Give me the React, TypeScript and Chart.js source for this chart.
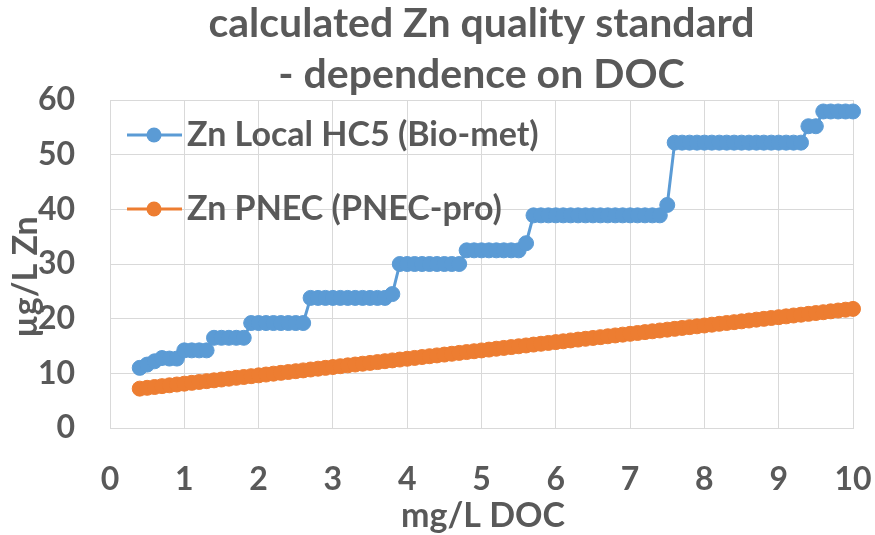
import React, { useEffect, useRef } from 'react';
import { Chart, registerables } from 'chart.js';

Chart.register(...registerables);

// ---- data ----
const docValues = [
  0.4, 0.5, 0.6, 0.7, 0.8, 0.9,
  1.0, 1.1, 1.2, 1.3, 1.4, 1.5, 1.6, 1.7, 1.8, 1.9,
  2.0, 2.1, 2.2, 2.3, 2.4, 2.5, 2.6, 2.7, 2.8, 2.9,
  3.0, 3.1, 3.2, 3.3, 3.4, 3.5, 3.6, 3.7, 3.8, 3.9,
  4.0, 4.1, 4.2, 4.3, 4.4, 4.5, 4.6, 4.7, 4.8, 4.9,
  5.0, 5.1, 5.2, 5.3, 5.4, 5.5, 5.6, 5.7, 5.8, 5.9,
  6.0, 6.1, 6.2, 6.3, 6.4, 6.5, 6.6, 6.7, 6.8, 6.9,
  7.0, 7.1, 7.2, 7.3, 7.4, 7.5, 7.6, 7.7, 7.8, 7.9,
  8.0, 8.1, 8.2, 8.3, 8.4, 8.5, 8.6, 8.7, 8.8, 8.9,
  9.0, 9.1, 9.2, 9.3, 9.4, 9.5, 9.6, 9.7, 9.8, 9.9,
  10.0,
];

const hc5Values = [
  11.0, 11.6, 12.2, 12.8, 12.7, 12.7,
  14.2, 14.2, 14.2, 14.2, 16.5, 16.5, 16.5, 16.5, 16.5, 19.2,
  19.2, 19.2, 19.2, 19.2, 19.2, 19.2, 19.2, 23.8, 23.8, 23.8,
  23.8, 23.8, 23.8, 23.8, 23.8, 23.8, 23.8, 23.8, 24.5, 30.0,
  30.0, 30.0, 30.0, 30.0, 30.0, 30.0, 30.0, 30.0, 32.5, 32.5,
  32.5, 32.5, 32.5, 32.5, 32.5, 32.5, 33.8, 38.9, 38.9, 38.9,
  38.9, 38.9, 38.9, 38.9, 38.9, 38.9, 38.9, 38.9, 38.9, 38.9,
  38.9, 38.9, 38.9, 38.9, 38.9, 40.8, 52.2, 52.2, 52.2, 52.2,
  52.2, 52.2, 52.2, 52.2, 52.2, 52.2, 52.2, 52.2, 52.2, 52.2,
  52.2, 52.2, 52.2, 52.2, 55.2, 55.2, 57.9, 57.9, 57.9, 57.9,
  57.9,
];

const pnecValues = [
  7.20, 7.35, 7.50, 7.66, 7.81, 7.96,
  8.11, 8.26, 8.42, 8.57, 8.72, 8.87, 9.02, 9.18, 9.33, 9.48,
  9.63, 9.78, 9.94, 10.09, 10.24, 10.39, 10.54, 10.70, 10.85, 11.00,
  11.15, 11.30, 11.46, 11.61, 11.76, 11.91, 12.06, 12.22, 12.37, 12.52,
  12.67, 12.82, 12.98, 13.13, 13.28, 13.43, 13.58, 13.74, 13.89, 14.04,
  14.19, 14.34, 14.50, 14.65, 14.80, 14.95, 15.10, 15.26, 15.41, 15.56,
  15.71, 15.86, 16.02, 16.17, 16.32, 16.47, 16.62, 16.78, 16.93, 17.08,
  17.23, 17.38, 17.54, 17.69, 17.84, 17.99, 18.14, 18.30, 18.45, 18.60,
  18.75, 18.90, 19.06, 19.21, 19.36, 19.51, 19.66, 19.82, 19.97, 20.12,
  20.27, 20.42, 20.58, 20.73, 20.88, 21.03, 21.18, 21.34, 21.49, 21.64,
  21.79,
];

const seriesNames = ['Zn Local HC5 (Bio-met)', 'Zn PNEC (PNEC-pro)'];
const titleLines = ['calculated Zn quality standard', '- dependence on DOC'];
const xAxisTitle = 'mg/L DOC';
const yAxisTitle = 'µg/L Zn';
const xTickRange = [0, 10, 1];
const yTickRange = [0, 60, 10];

// ---- styles ----
const FONT = 'Lato, "DejaVu Sans", sans-serif';
const TEXT = '#595959';
const GRID = '#d9d9d9';
const BLUE = '#5b9bd5';
const ORANGE = '#ed7d31';
const colors = [BLUE, ORANGE];

const overlayPlugin = {
  id: 'overlayText',
  afterDraw(chart: any) {
    const ctx = chart.ctx as CanvasRenderingContext2D;
    const a = chart.chartArea;
    ctx.save();
    ctx.fillStyle = TEXT;

    // title
    ctx.font = `bold 41px ${FONT}`;
    ctx.textAlign = 'center';
    ctx.textBaseline = 'alphabetic';
    const cx = (a.left + a.right) / 2;
    ctx.fillText(titleLines[0], cx, 37);
    ctx.fillText(titleLines[1], cx, 88);

    // legend (inside plot area)
    const legendY = [a.top + 35, a.top + 109];
    seriesNames.forEach((name, i) => {
      const y = legendY[i];
      ctx.strokeStyle = colors[i];
      ctx.lineWidth = 3;
      ctx.beginPath();
      ctx.moveTo(a.left + 17, y);
      ctx.lineTo(a.left + 72, y);
      ctx.stroke();
      ctx.fillStyle = colors[i];
      ctx.beginPath();
      ctx.arc(a.left + 44, y, 7.5, 0, Math.PI * 2);
      ctx.fill();
      ctx.fillStyle = TEXT;
      ctx.font = `bold 34px ${FONT}`;
      ctx.textAlign = 'left';
      ctx.textBaseline = 'alphabetic';
      ctx.fillText(name, a.left + 77, y + 11);
    });

    // x axis title
    ctx.font = `bold 34px ${FONT}`;
    ctx.textAlign = 'center';
    ctx.textBaseline = 'alphabetic';
    ctx.fillText(xAxisTitle, 483, 527);

    // y axis title
    ctx.translate(37, 277);
    ctx.rotate(-Math.PI / 2);
    ctx.fillText(yAxisTitle, 0, 0);
    ctx.restore();
  },
};

export default function App() {
  const ref = useRef<HTMLCanvasElement | null>(null);

  useEffect(() => {
    document.body.style.margin = '0';
    if (!ref.current) return;
    const chart = new Chart(ref.current, {
      type: 'line',
      data: {
        datasets: [hc5Values, pnecValues].map((vals, i) => ({
          label: seriesNames[i],
          data: docValues.map((x, j) => ({ x, y: vals[j] })),
          borderColor: colors[i],
          backgroundColor: colors[i],
          pointBackgroundColor: colors[i],
          pointBorderColor: colors[i],
          borderWidth: 3,
          pointRadius: 7.5,
          pointBorderWidth: 1,
          tension: 0,
          clip: false as any,
        })),
      },
      options: {
        animation: false,
        responsive: false,
        devicePixelRatio: 1,
        layout: { padding: { top: 100, right: 22, left: 0, bottom: 0 } },
        plugins: {
          legend: { display: false },
          title: { display: false },
          tooltip: { enabled: false },
        },
        scales: {
          x: {
            type: 'linear',
            min: xTickRange[0],
            max: xTickRange[1],
            ticks: {
              stepSize: xTickRange[2],
              color: TEXT,
              font: { family: FONT, size: 32, weight: 'bold' },
              padding: 32,
              maxRotation: 0,
            },
            grid: { color: GRID, lineWidth: 1, drawTicks: false },
            border: { color: GRID, width: 1 },
            afterFit: (s: any) => {
              s.height = 107;
              s.paddingLeft = 0;
              s.paddingRight = 0;
            },
          },
          y: {
            min: yTickRange[0],
            max: yTickRange[1],
            ticks: {
              stepSize: yTickRange[2],
              color: TEXT,
              font: { family: FONT, size: 32, weight: 'bold' },
              padding: 35,
            },
            grid: { color: GRID, lineWidth: 1, drawTicks: false },
            border: { color: GRID, width: 1 },
            afterFit: (s: any) => {
              s.width = 110;
              s.paddingTop = 0;
              s.paddingBottom = 0;
            },
          },
        },
      },
      plugins: [overlayPlugin],
    });
    return () => chart.destroy();
  }, []);

  return (
    <div style={{ width: 875, height: 535 }}>
      <canvas ref={ref} width={875} height={535} style={{ display: 'block' }} />
    </div>
  );
}
